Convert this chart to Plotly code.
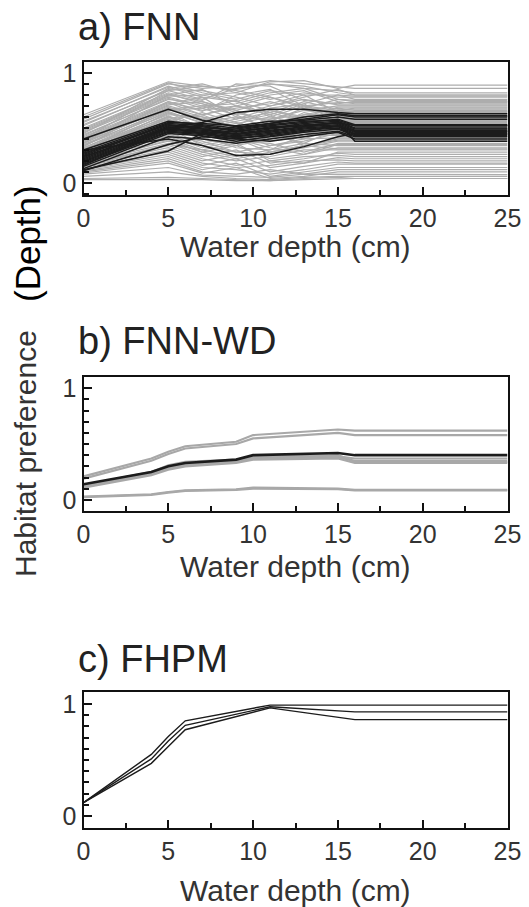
import plotly.graph_objects as go

# ---------------- data ----------------
# a) FNN : water depth knots (cm)
fnn_x = [0, 5, 7, 9, 11, 13, 15, 16, 25]
fnn_gray = [
    [0.62, 0.92, 0.88, 0.85, 0.90, 0.86, 0.84, 0.82, 0.82],
    [0.58, 0.90, 0.86, 0.88, 0.93, 0.90, 0.87, 0.86, 0.86],
    [0.55, 0.88, 0.80, 0.82, 0.92, 0.93, 0.86, 0.89, 0.89],
    [0.52, 0.85, 0.84, 0.78, 0.70, 0.78, 0.85, 0.80, 0.80],
    [0.50, 0.82, 0.75, 0.90, 0.88, 0.75, 0.72, 0.74, 0.74],
    [0.48, 0.80, 0.85, 0.70, 0.62, 0.72, 0.80, 0.76, 0.76],
    [0.46, 0.78, 0.70, 0.72, 0.80, 0.84, 0.74, 0.72, 0.72],
    [0.44, 0.76, 0.72, 0.66, 0.74, 0.66, 0.70, 0.70, 0.70],
    [0.42, 0.74, 0.65, 0.80, 0.85, 0.70, 0.66, 0.68, 0.68],
    [0.40, 0.72, 0.78, 0.60, 0.58, 0.62, 0.68, 0.66, 0.66],
    [0.38, 0.70, 0.62, 0.68, 0.72, 0.80, 0.64, 0.64, 0.64],
    [0.37, 0.68, 0.58, 0.52, 0.66, 0.58, 0.62, 0.62, 0.62],
    [0.35, 0.66, 0.68, 0.75, 0.60, 0.54, 0.60, 0.60, 0.60],
    [0.34, 0.64, 0.55, 0.60, 0.50, 0.64, 0.58, 0.58, 0.58],
    [0.32, 0.62, 0.60, 0.45, 0.55, 0.50, 0.56, 0.56, 0.56],
    [0.31, 0.60, 0.52, 0.58, 0.68, 0.72, 0.55, 0.54, 0.54],
    [0.30, 0.58, 0.50, 0.40, 0.44, 0.52, 0.52, 0.52, 0.52],
    [0.28, 0.56, 0.64, 0.55, 0.46, 0.40, 0.50, 0.50, 0.50],
    [0.27, 0.54, 0.45, 0.50, 0.40, 0.46, 0.48, 0.48, 0.48],
    [0.26, 0.52, 0.48, 0.36, 0.52, 0.60, 0.46, 0.46, 0.46],
    [0.25, 0.50, 0.40, 0.45, 0.34, 0.38, 0.45, 0.44, 0.44],
    [0.24, 0.48, 0.42, 0.32, 0.30, 0.44, 0.43, 0.42, 0.42],
    [0.23, 0.46, 0.36, 0.42, 0.48, 0.34, 0.40, 0.40, 0.40],
    [0.22, 0.44, 0.38, 0.28, 0.26, 0.32, 0.38, 0.38, 0.38],
    [0.21, 0.42, 0.32, 0.38, 0.36, 0.28, 0.36, 0.36, 0.36],
    [0.20, 0.40, 0.30, 0.24, 0.30, 0.36, 0.34, 0.34, 0.34],
    [0.19, 0.38, 0.28, 0.34, 0.22, 0.26, 0.32, 0.32, 0.32],
    [0.18, 0.36, 0.26, 0.20, 0.24, 0.30, 0.30, 0.30, 0.30],
    [0.17, 0.34, 0.24, 0.30, 0.18, 0.22, 0.27, 0.26, 0.26],
    [0.16, 0.32, 0.22, 0.16, 0.20, 0.24, 0.25, 0.24, 0.24],
    [0.15, 0.30, 0.20, 0.26, 0.14, 0.18, 0.23, 0.22, 0.22],
    [0.14, 0.28, 0.18, 0.14, 0.16, 0.20, 0.21, 0.20, 0.20],
    [0.13, 0.26, 0.16, 0.22, 0.10, 0.15, 0.19, 0.18, 0.18],
    [0.12, 0.24, 0.14, 0.12, 0.08, 0.12, 0.17, 0.17, 0.17],
    [0.11, 0.22, 0.12, 0.18, 0.06, 0.10, 0.14, 0.14, 0.14],
    [0.10, 0.20, 0.10, 0.08, 0.12, 0.08, 0.12, 0.12, 0.12],
    [0.09, 0.18, 0.09, 0.14, 0.04, 0.06, 0.10, 0.10, 0.10],
    [0.08, 0.14, 0.07, 0.06, 0.05, 0.08, 0.08, 0.075, 0.075],
    [0.06, 0.10, 0.06, 0.04, 0.03, 0.05, 0.06, 0.06, 0.06],
    [0.04, 0.05, 0.04, 0.03, 0.02, 0.04, 0.05, 0.04, 0.04],
    [0.03, 0.03, 0.03, 0.02, 0.02, 0.03, 0.04, 0.04, 0.04],
    [0.45, 0.86, 0.90, 0.82, 0.76, 0.82, 0.78, 0.78, 0.78],
    [0.40, 0.84, 0.76, 0.86, 0.90, 0.88, 0.82, 0.80, 0.80],
    [0.36, 0.80, 0.74, 0.64, 0.56, 0.68, 0.76, 0.74, 0.74],
    [0.33, 0.74, 0.66, 0.70, 0.64, 0.56, 0.66, 0.65, 0.65],
    [0.29, 0.68, 0.56, 0.48, 0.58, 0.66, 0.62, 0.61, 0.61],
    [0.26, 0.64, 0.50, 0.56, 0.62, 0.48, 0.57, 0.57, 0.57],
    [0.24, 0.60, 0.46, 0.38, 0.42, 0.54, 0.53, 0.53, 0.53],
    [0.22, 0.55, 0.44, 0.52, 0.38, 0.42, 0.47, 0.47, 0.47],
    [0.20, 0.50, 0.34, 0.28, 0.34, 0.40, 0.41, 0.41, 0.41],
    [0.60, 0.91, 0.82, 0.76, 0.84, 0.80, 0.80, 0.79, 0.79],
    [0.56, 0.87, 0.78, 0.74, 0.82, 0.86, 0.76, 0.75, 0.75],
    [0.53, 0.84, 0.88, 0.84, 0.78, 0.70, 0.73, 0.73, 0.73],
    [0.49, 0.81, 0.72, 0.62, 0.70, 0.76, 0.71, 0.71, 0.71],
    [0.47, 0.79, 0.80, 0.74, 0.66, 0.60, 0.69, 0.69, 0.69],
    [0.43, 0.77, 0.68, 0.58, 0.64, 0.74, 0.67, 0.67, 0.67],
    [0.41, 0.73, 0.62, 0.70, 0.78, 0.68, 0.65, 0.65, 0.65],
    [0.39, 0.71, 0.74, 0.66, 0.54, 0.62, 0.63, 0.63, 0.63],
    [0.36, 0.69, 0.60, 0.54, 0.60, 0.70, 0.61, 0.61, 0.61],
    [0.34, 0.67, 0.70, 0.62, 0.48, 0.56, 0.59, 0.59, 0.59],
    [0.32, 0.65, 0.54, 0.46, 0.52, 0.62, 0.57, 0.57, 0.57],
    [0.30, 0.63, 0.58, 0.64, 0.56, 0.46, 0.55, 0.55, 0.55],
    [0.28, 0.61, 0.50, 0.42, 0.50, 0.58, 0.53, 0.53, 0.53],
    [0.27, 0.59, 0.62, 0.50, 0.38, 0.44, 0.51, 0.51, 0.51],
    [0.25, 0.57, 0.46, 0.52, 0.44, 0.36, 0.49, 0.49, 0.49],
    [0.23, 0.53, 0.40, 0.34, 0.40, 0.50, 0.44, 0.44, 0.44],
    [0.21, 0.47, 0.52, 0.40, 0.28, 0.34, 0.39, 0.39, 0.39],
    [0.19, 0.43, 0.34, 0.40, 0.32, 0.26, 0.35, 0.35, 0.35],
    [0.17, 0.39, 0.28, 0.22, 0.28, 0.34, 0.31, 0.31, 0.31],
    [0.15, 0.35, 0.30, 0.36, 0.20, 0.18, 0.28, 0.28, 0.28],
]
fnn_black = [
    [0.40, 0.67, 0.57, 0.51, 0.54, 0.60, 0.63, 0.61, 0.61],
    [0.24, 0.50, 0.55, 0.64, 0.67, 0.67, 0.64, 0.63, 0.63],
    [0.30, 0.40, 0.34, 0.25, 0.26, 0.33, 0.42, 0.45, 0.45],
    [0.12, 0.29, 0.45, 0.47, 0.50, 0.52, 0.55, 0.52, 0.52],
    [0.30, 0.56, 0.53, 0.50, 0.54, 0.58, 0.62, 0.60, 0.60],
    [0.28, 0.55, 0.54, 0.52, 0.56, 0.57, 0.60, 0.58, 0.58],
    [0.26, 0.54, 0.52, 0.48, 0.52, 0.55, 0.58, 0.53, 0.53],
    [0.25, 0.53, 0.50, 0.49, 0.53, 0.56, 0.57, 0.52, 0.52],
    [0.23, 0.52, 0.51, 0.47, 0.50, 0.54, 0.56, 0.50, 0.50],
    [0.22, 0.51, 0.49, 0.46, 0.51, 0.52, 0.55, 0.49, 0.49],
    [0.21, 0.50, 0.48, 0.45, 0.49, 0.53, 0.54, 0.48, 0.48],
    [0.20, 0.49, 0.47, 0.44, 0.48, 0.51, 0.53, 0.47, 0.47],
    [0.19, 0.48, 0.46, 0.43, 0.46, 0.50, 0.52, 0.46, 0.46],
    [0.18, 0.47, 0.45, 0.42, 0.45, 0.49, 0.51, 0.45, 0.45],
    [0.17, 0.46, 0.44, 0.40, 0.44, 0.48, 0.50, 0.44, 0.44],
    [0.15, 0.45, 0.43, 0.38, 0.42, 0.46, 0.49, 0.43, 0.43],
    [0.13, 0.42, 0.40, 0.36, 0.40, 0.44, 0.47, 0.42, 0.42],
    [0.11, 0.35, 0.42, 0.40, 0.38, 0.42, 0.46, 0.40, 0.40],
    [0.27, 0.53, 0.49, 0.44, 0.47, 0.51, 0.55, 0.38, 0.38],
    [0.16, 0.50, 0.45, 0.41, 0.43, 0.47, 0.52, 0.47, 0.47],
]

# b) FNN-WD
wd_x = [0, 4, 5, 6, 9, 10, 15, 16, 25]
wd_gray = [
    [0.21, 0.37, 0.43, 0.48, 0.52, 0.58, 0.63, 0.62, 0.62],
    [0.19, 0.35, 0.41, 0.46, 0.50, 0.55, 0.60, 0.58, 0.58],
    [0.13, 0.24, 0.29, 0.32, 0.35, 0.38, 0.39, 0.37, 0.37],
    [0.12, 0.23, 0.28, 0.31, 0.34, 0.37, 0.38, 0.35, 0.35],
    [0.13, 0.25, 0.31, 0.34, 0.36, 0.39, 0.40, 0.34, 0.34],
    [0.11, 0.22, 0.27, 0.30, 0.33, 0.36, 0.37, 0.33, 0.33],
    [0.03, 0.05, 0.07, 0.085, 0.095, 0.11, 0.10, 0.09, 0.09],
    [0.025, 0.045, 0.065, 0.08, 0.09, 0.10, 0.095, 0.085, 0.085],
]
wd_black = [0.14, 0.25, 0.30, 0.33, 0.36, 0.40, 0.42, 0.40, 0.40]

# c) FHPM
hp_x = [0, 4, 5, 6, 11, 16, 25]
hp_lines = [
    [0.12, 0.55, 0.71, 0.85, 0.99, 0.99, 0.99],
    [0.12, 0.51, 0.67, 0.81, 0.975, 0.93, 0.93],
    [0.12, 0.47, 0.62, 0.77, 0.965, 0.86, 0.86],
]

x_ticks = [0, 5, 10, 15, 20, 25]
y_ticks = [0, 1]
panel_titles = ["a) FNN", "b) FNN-WD", "c) FHPM"]
x_title = "Water depth (cm)"

# ---------------- figure ----------------
W, H = 529, 907
FONT = "Liberation Sans, Arial, Helvetica, sans-serif"
GRAY = "#adadad"
BLACK = "#1c1c1c"

fig = go.Figure()

def add(xs, ys, n, color, width):
    fig.add_trace(go.Scatter(
        x=xs, y=ys, mode="lines", xaxis="x" + ("" if n == 1 else str(n)),
        yaxis="y" + ("" if n == 1 else str(n)),
        line=dict(color=color, width=width), hoverinfo="skip", showlegend=False))

for ys in fnn_gray:
    add(fnn_x, ys, 1, GRAY, 1.2)
for ys in fnn_black:
    add(fnn_x, ys, 1, BLACK, 1.5)
for ys in wd_gray:
    add(wd_x, ys, 2, "#a8a8a8", 2.2)
add(wd_x, wd_black, 2, BLACK, 2.6)
for ys in hp_lines:
    add(hp_x, ys, 3, BLACK, 1.4)

def py(px):
    return 1 - px / H

def px_x(px):
    return px / W

panels = [  # (top px, bottom px, yrange)
    (62, 195, [-0.11, 1.10]),
    (377, 511, [-0.10, 1.10]),
    (692, 828, [-0.107, 1.107]),
]
xl, xr = 83.5, 507.5

layout = dict(
    template="none",
    width=W, height=H, margin=dict(l=0, r=0, t=0, b=0, pad=0),
    paper_bgcolor="white", plot_bgcolor="white",
    font=dict(family=FONT, color="#333333"),
)
for i, (top, bot, yr) in enumerate(panels, start=1):
    sfx = "" if i == 1 else str(i)
    layout["xaxis" + sfx] = dict(
        domain=[px_x(xl), px_x(xr)], range=[0, 25], anchor="y" + sfx,
        automargin=False,
        tickvals=x_ticks, ticks="inside", ticklen=8, tickwidth=1.6, tickcolor="#111",
        minor=dict(ticks="inside", dtick=2.5, tick0=0, ticklen=5, tickwidth=1.6, tickcolor="#111"),
        showline=True, mirror=True, linecolor="#111", linewidth=2,
        showgrid=False, zeroline=False,
        tickfont=dict(size=25, color="#333333", family=FONT),
    )
    layout["yaxis" + sfx] = dict(
        domain=[py(bot), py(top)], range=yr, anchor="x" + sfx,
        automargin=False,
        tickvals=y_ticks, ticks="inside", ticklen=8, tickwidth=1.6, tickcolor="#111",
        minor=dict(ticks="inside", dtick=0.1, tick0=0, ticklen=5, tickwidth=1.6, tickcolor="#111"),
        showline=True, mirror=True, linecolor="#111", linewidth=2,
        showgrid=False, zeroline=False,
        tickfont=dict(size=25, color="#333333", family=FONT),
    )
fig.update_layout(**layout)

ann = []
title_y = [27, 341, 659]
for t, yy in zip(panel_titles, title_y):
    ann.append(dict(text=t, x=px_x(76), y=py(yy), xref="paper", yref="paper",
                    xanchor="left", yanchor="middle", showarrow=False,
                    font=dict(size=38, color="#222222", family=FONT)))
xt_y = [247, 566, 890]
for yy in xt_y:
    ann.append(dict(text=x_title, x=px_x((xl + xr) / 2), y=py(yy), xref="paper", yref="paper",
                    xanchor="center", yanchor="middle", showarrow=False,
                    font=dict(size=30, color="#333333", family=FONT)))
ann.append(dict(text="Habitat preference", x=px_x(25), y=py(454), xref="paper", yref="paper",
                xanchor="center", yanchor="middle", textangle=-90, showarrow=False,
                font=dict(size=30, color="#333333", family=FONT)))
ann.append(dict(text="(Depth)", x=px_x(27), y=py(244), xref="paper", yref="paper",
                xanchor="center", yanchor="middle", textangle=-90, showarrow=False,
                font=dict(size=35, color="#000000", family=FONT)))
fig.update_layout(annotations=ann)

fig.write_html("out.html")
